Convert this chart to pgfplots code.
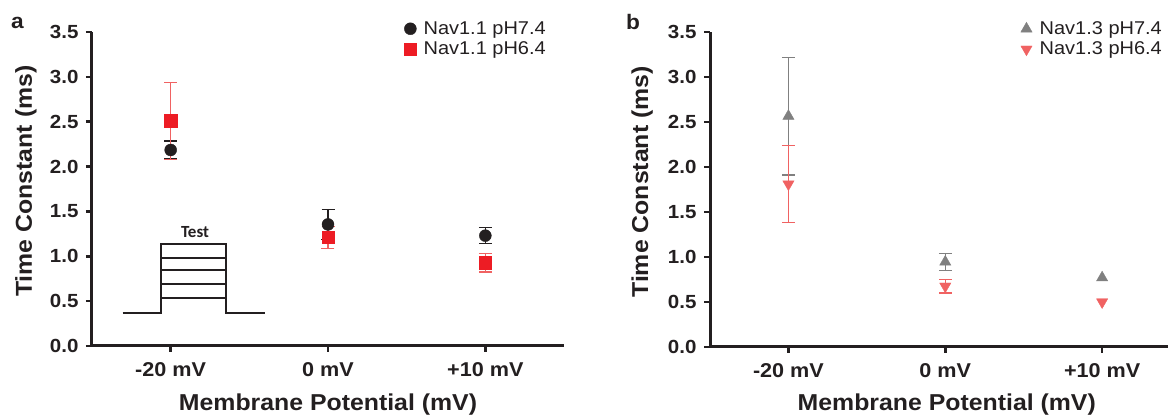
\documentclass[border=0pt]{standalone}
\usepackage{fontspec}
\setmainfont{Liberation Sans}[FakeStretch=1.08]
\newfontfamily\calibri{Carlito}
\usepackage{pgfplots}
\pgfplotsset{compat=1.18}

\definecolor{ink}{HTML}{231F20}
\definecolor{nred}{HTML}{ED1C24}
\definecolor{ngray}{HTML}{808080}
\definecolor{lred}{HTML}{F06262}

\pgfplotsset{
  panel/.style={
    scale only axis,
    xmin=-0.5, ymin=0, ymax=3.5,
    axis x line=bottom, axis y line=left,
    axis line style={-, line width=3pt, draw=ink},
    tick style={line width=2.5pt, draw=ink},
    tick align=outside, major tick length=6pt,
    xtick={0,1,2}, xticklabels={-20 mV,0 mV,+10 mV},
    ytick={0,0.5,...,3.5},
    /pgf/number format/assume math mode=true,
    yticklabel style={/pgf/number format/fixed, /pgf/number format/fixed zerofill, /pgf/number format/precision=1,
      font=\fontsize{19}{21}\selectfont\bfseries, xshift=-4pt},
    xticklabel style={font=\fontsize{20}{22}\selectfont\bfseries, yshift=-7pt},
    ticklabel style={text=ink},
    label style={font=\fontsize{23}{25}\selectfont\bfseries, text=ink},
    ylabel={Time Constant (ms)},
    xlabel={Membrane Potential (mV)},
    clip=false,
    legend style={draw=none, fill=none, font=\fontsize{18.5}{20}\selectfont, text=ink,
      anchor=north west, row sep=2pt, column sep=5pt, inner sep=0pt},
    legend cell align=left,
    legend image code/.code={\path (-6pt,0pt) (6pt,0pt); \draw[##1] plot coordinates {(0pt,0pt)};},
    error bars/y dir=both, error bars/y explicit,
    error bars/error mark=|,
  },
}

\begin{document}
\begin{tikzpicture}
\useasboundingbox (0pt,0pt) rectangle (1168pt,415pt);

% panel a
\begin{axis}[panel, at={(92pt,69pt)}, anchor=south west, width=472pt, height=314pt, xmax=2.5,
  ylabel style={at={(axis description cs:-0.14,0.525)}, anchor=center},
  xlabel style={at={(axis description cs:0.5,-0.188)}, anchor=center},
  legend style={at={(axis description cs:0.661,1.04)}}]
\addplot[only marks, mark=*, mark size=6pt, color=ink,
  error bars/error bar style={line width=1.2pt, ink},
  error bars/error mark options={ink, mark size=6.5pt, line width=1.2pt}]
  coordinates {(0,2.185) +- (0,0.10) (1,1.355) +- (0,0.165) (2,1.23) +- (0,0.09)};
\addlegendentry{Nav1.1 pH7.4}
\addplot[only marks, mark=square*, mark size=6.2pt, color=nred,
  error bars/error bar style={line width=1.2pt, lred},
  error bars/error mark options={lred, mark size=6.5pt, line width=1.2pt}]
  coordinates {(0,2.51) +- (0,0.43) (1,1.21) +- (0,0.125) (2,0.93) +- (0,0.105)};
\addlegendentry{Nav1.1 pH6.4}
\end{axis}

% panel b
\begin{axis}[panel, at={(710pt,68pt)}, anchor=south west, width=458pt, height=315pt, xmax=2.42,
  ylabel style={at={(axis description cs:-0.148,0.524)}, anchor=center},
  xlabel style={at={(axis description cs:0.517,-0.184)}, anchor=center},
  legend style={at={(axis description cs:0.677,1.04)}}]
\addplot[only marks, mark=triangle*, mark size=6.5pt, color=ngray,
  error bars/error bar style={line width=1.2pt, ngray},
  error bars/error mark options={ngray, mark size=6.5pt, line width=1.2pt}]
  coordinates {(0,2.565) +- (0,0.655) (1,0.945) +- (0,0.095)};
\addlegendentry{Nav1.3 pH7.4}
\addplot[only marks, mark=triangle*, mark options={rotate=180}, mark size=6.5pt, color=lred,
  error bars/error bar style={line width=1.2pt, lred},
  error bars/error mark options={lred, mark size=6.5pt, line width=1.2pt}]
  coordinates {(0,1.81) +- (0,0.43) (1,0.675) +- (0,0.075)};
\addlegendentry{Nav1.3 pH6.4}
% +10 mV points: error smaller than the marker, no bars drawn
\addplot[forget plot, only marks, mark=triangle*, mark size=6.5pt, color=ngray]
  coordinates {(2,0.77)};
\addplot[forget plot, only marks, mark=triangle*, mark options={rotate=180}, mark size=6.5pt, color=lred]
  coordinates {(2,0.50)};
\end{axis}

% voltage protocol sketch
\begin{scope}[line width=2pt, draw=ink]
\draw (122.7pt,101.7pt) -- (161pt,101.7pt) -- (161pt,170.7pt) -- (226pt,170.7pt) -- (226pt,101.7pt) -- (265pt,101.7pt);
\foreach \yy in {157.2,144.5,131.2,117.3} \draw (161pt,\yy pt) -- (226pt,\yy pt);
\end{scope}
\node[font=\calibri\fontsize{17}{19}\selectfont\bfseries, text=ink] at (195pt,182.5pt) {Test};

% panel letters
\node[font=\fontsize{21}{23}\selectfont\bfseries, text=ink, anchor=base west, inner sep=0pt] at (11pt,386pt) {a};
\node[font=\fontsize{21}{23}\selectfont\bfseries, text=ink, anchor=base west, inner sep=0pt] at (626pt,385pt) {b};
\end{tikzpicture}
\end{document}
